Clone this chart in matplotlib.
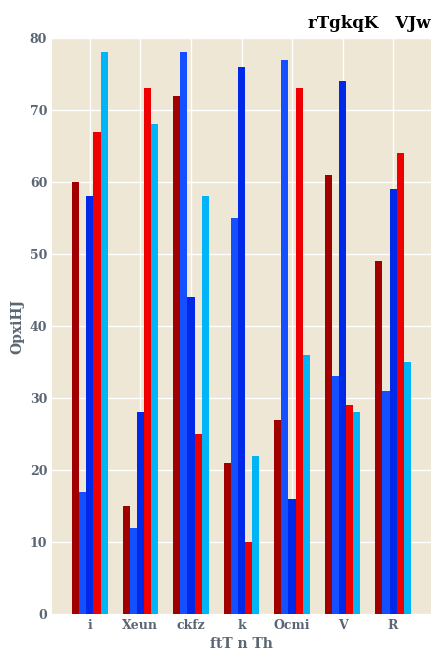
import numpy as np
import matplotlib.pyplot as plt

plt.rcParams['font.family'] = ['DejaVu Serif']

categories = ['i', 'Xeun', 'ckfz', 'k', 'Ocmi', 'V', 'R']
s1 = [60, 15, 72, 21, 27, 61, 49]
s2 = [17, 12, 78, 55, 77, 33, 31]
s3 = [58, 28, 44, 76, 16, 74, 59]
s4 = [67, 73, 25, 10, 73, 29, 64]
s5 = [78, 68, 58, 22, 36, 28, 35]
series = [s1, s2, s3, s4, s5]
colors = ['#a00000', '#1450ff', '#0028e8', '#ee0000', '#00b4f5']

fig = plt.figure(figsize=(4.44, 6.66), dpi=100)
ax = fig.add_axes([52 / 444, 52 / 666, 379 / 444, 576 / 666])
ax.set_facecolor('#efe7d5')
x = np.arange(len(categories))
w = 0.14
for i, (vals, c) in enumerate(zip(series, colors)):
    ax.bar(x + (i - 2) * w, vals, w, color=c, zorder=2)

ax.set_xlim(-0.75, len(categories) - 0.25)
ax.set_ylim(0, 80)
ax.set_yticks(range(0, 81, 10))
ax.set_xticks(x)
ax.set_xticklabels(categories)
ax.grid(True, color='white', linewidth=1, zorder=0)
ax.set_axisbelow(True)
for s in ax.spines.values():
    s.set_visible(False)
ax.tick_params(length=0, colors='#5a6673', labelsize=9)
for lab in ax.get_xticklabels() + ax.get_yticklabels():
    lab.set_fontweight('bold')
ax.set_xlabel('ftT n Th', color='#5a6673', fontsize=10, fontweight='bold')
ax.set_ylabel('OpxiHJ', color='#5a6673', fontsize=10, fontweight='bold')
fig.text(0.97, 0.965, 'rTgkqK   VJw', ha='right', va='center',
         fontsize=12, fontweight='bold', color='black')

fig.savefig('out.png', dpi=100)
